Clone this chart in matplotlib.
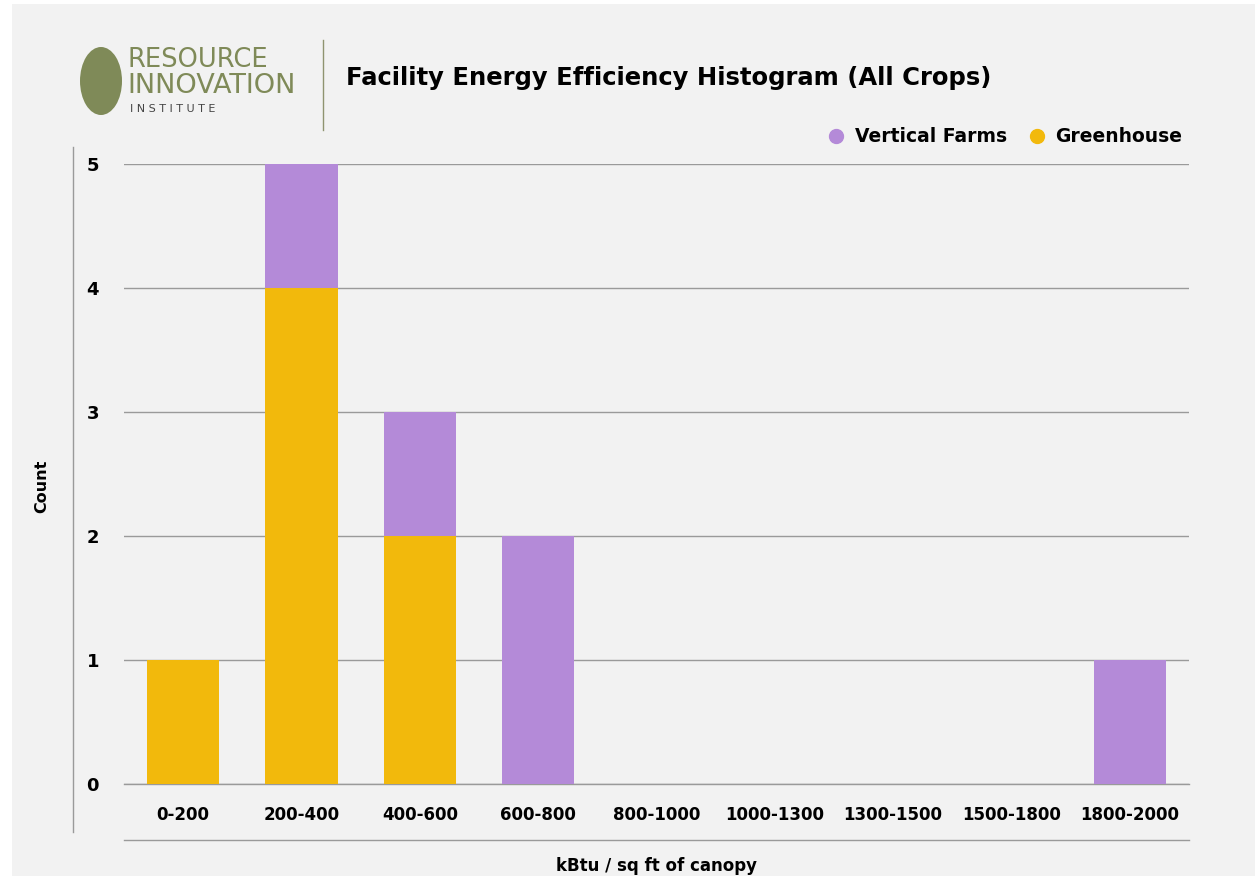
import matplotlib
matplotlib.use('Agg')
import matplotlib.pyplot as plt
from matplotlib.patches import Ellipse, Rectangle
from matplotlib.lines import Line2D
import numpy as np

# 数据
categories = ['0-200', '200-400', '400-600', '600-800', '800-1000',
              '1000-1300', '1300-1500', '1500-1800', '1800-2000']
greenhouse = [1, 4, 2, 0, 0, 0, 0, 0, 0]
vertical_farms = [0, 1, 1, 2, 0, 0, 0, 0, 1]
y_ticks = [0, 1, 2, 3, 4, 5]

GOLD = '#F2B90C'
PURPLE = '#B48AD8'
OLIVE = '#7F8A58'
BG = '#F2F2F2'
GRID = '#9A9A9A'

plt.rcParams['font.family'] = ['DejaVu Sans']

W, H = 1255, 876
fig = plt.figure(figsize=(W / 100, H / 100), dpi=100)
fig.patch.set_facecolor('white')

def fx(px):
    return px / W

def fy(py):
    return 1 - py / H

# 灰色背景面板
fig.add_artist(Rectangle((fx(12), 0), 1 - fx(12), fy(4), transform=fig.transFigure,
                         facecolor=BG, edgecolor='none', zorder=0))

ax = fig.add_axes([fx(124), fy(784), fx(1189) - fx(124), fy(164) - fy(784)])
ax.set_facecolor('none')

x = np.arange(len(categories))
ax.bar(x, greenhouse, width=0.61, color=GOLD, zorder=3)
ax.bar(x, vertical_farms, width=0.61, bottom=greenhouse, color=PURPLE, zorder=3)
ax.axhline(0, color=GRID, linewidth=1, zorder=2, clip_on=False)

ax.set_xlim(-0.5, len(categories) - 0.5)
ax.set_ylim(0, 5)
ax.set_yticks(y_ticks)
ax.set_yticklabels([str(t) for t in y_ticks], fontsize=13, fontweight='bold')
ax.set_xticks(x)
ax.set_xticklabels(categories, fontsize=12, fontweight='bold')
ax.tick_params(axis='y', length=0, pad=18)
ax.tick_params(axis='x', length=0, pad=16)
for s in ax.spines.values():
    s.set_visible(False)
ax.yaxis.grid(True, color=GRID, linewidth=1, zorder=1)
ax.set_axisbelow(True)

# 坐标轴标签
fig.text(fx(42), fy(486), 'Count', rotation=90, ha='center', va='center',
         fontsize=11.5, fontweight='bold')
fig.text(fx(656), fy(857), 'kBtu / sq ft of canopy', ha='center', va='top',
         fontsize=12, fontweight='bold')

# 额外的线
fig.add_artist(Line2D([fx(73), fx(73)], [fy(147), fy(832)], transform=fig.transFigure,
                      color=GRID, linewidth=1))
fig.add_artist(Line2D([fx(124), fx(1189)], [fy(840), fy(840)], transform=fig.transFigure,
                      color=GRID, linewidth=1))
fig.add_artist(Line2D([fx(323), fx(323)], [fy(40), fy(130)], transform=fig.transFigure,
                      color='#8F9470', linewidth=1))

# 标题
fig.text(fx(346), fy(78), 'Facility Energy Efficiency Histogram (All Crops)',
         ha='left', va='center', fontsize=17.5, fontweight='bold')

# 图例
fig.legend(handles=[
    Line2D([], [], marker='o', linestyle='none', color=PURPLE, markersize=10, label='Vertical Farms'),
    Line2D([], [], marker='o', linestyle='none', color=GOLD, markersize=10, label='Greenhouse')],
    loc='center right', bbox_to_anchor=(fx(1190), fy(137)), ncol=2, frameon=False,
    handletextpad=0.0, columnspacing=0.6, borderaxespad=0,
    prop={'weight': 'bold', 'size': 13.5})

# logo
fig.add_artist(Ellipse((fx(101), fy(81)), fx(42), 68 / H, angle=0,
                       transform=fig.transFigure, facecolor=OLIVE, edgecolor='none'))
fig.text(fx(128), fy(60), 'RESOURCE', color=OLIVE, fontsize=18.5,
         ha='left', va='center', family='Liberation Sans Narrow')
fig.text(fx(127), fy(86), 'INNOVATION', color=OLIVE, fontsize=19.5,
         ha='left', va='center', family='Liberation Sans Narrow')
fig.text(fx(130), fy(109), 'I N S T I T U T E', color='#444444', fontsize=8,
         ha='left', va='center')

fig.savefig('out.png', dpi=100, facecolor=fig.get_facecolor())
